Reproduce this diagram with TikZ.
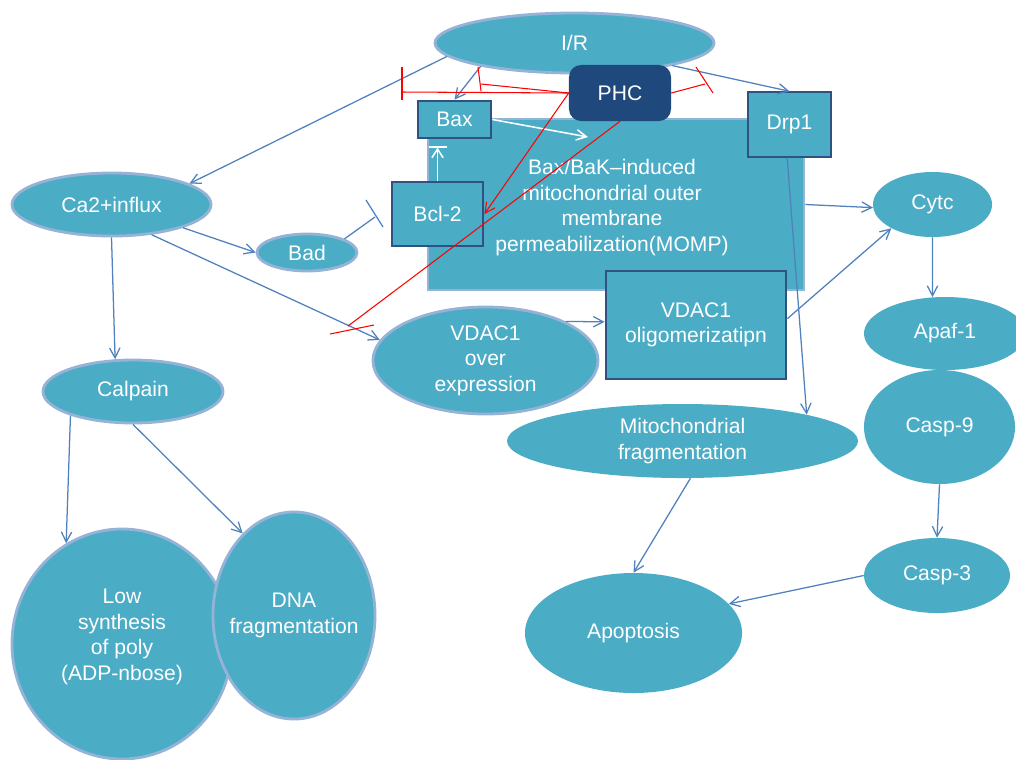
\documentclass[tikz,border=0pt]{standalone}
\usepackage{fontspec}
\setmainfont{Liberation Sans}
\usetikzlibrary{shapes.geometric,arrows.meta}

\definecolor{cellfill}{HTML}{4BACC6}
\definecolor{rimblue}{HTML}{95B3D7}
\definecolor{arrowblue}{HTML}{4F81BD}
\definecolor{boxrim}{HTML}{2F5283}
\definecolor{phcfill}{HTML}{1F497D}

\newcommand\diafont{\fontsize{15}{18.2}\selectfont}

\tikzset{
  cell/.style={fill=cellfill, text=white, align=center, inner sep=0pt, font=\diafont},
  ell/.style={cell, ellipse, draw=rimblue, line width=2pt},
  flatell/.style={cell, ellipse},
  darkbox/.style={cell, rectangle, draw=boxrim, line width=2pt},
  lbl/.style={cell, fill=none},
  flow/.style={draw=arrowblue, line width=0.9pt, -{Straight Barb[length=2.5mm,width=2.6mm]}},
  blockblue/.style={draw=arrowblue, line width=0.9pt},
  block/.style={draw=red, line width=0.75pt},
  whiteflow/.style={draw=white, line width=1.1pt, -{Straight Barb[length=2.5mm,width=2.6mm]}}
}

\begin{document}
\begin{tikzpicture}[x=0.025cm,y=-0.025cm]

\useasboundingbox (0,0) rectangle (1016,759);

% Define free ends of the inhibition lines
\coordinate (caStop) at (402,92);
\coordinate (caBarA) at (402,67);
\coordinate (caBarB) at (402,100);
\coordinate (baxStop) at (481,84);
\coordinate (baxBarA) at (478,67);
\coordinate (baxBarB) at (481,91);
\coordinate (drpStop) at (705,84);
\coordinate (drpBarA) at (696,67);
\coordinate (drpBarB) at (713,93);
\coordinate (vdacStop) at (348,326);
\coordinate (vdacBarA) at (330,334);
\coordinate (vdacBarB) at (374,325);
\coordinate (badStop) at (375,217);
\coordinate (badBarA) at (366,200);
\coordinate (badBarB) at (383,227);
\coordinate (mompIn) at (588,137);
\coordinate (bclTop) at (437.5,146);

% Big MOMP box (drawn first, the small boxes sit on it)
\node[cell, rectangle, draw=rimblue, line width=2pt, minimum width=9.4cm, minimum height=4.275cm]
  (MOMP) at (616,204.5) {};
\node[lbl] (MOMPtxt) at (612,207.5) {Bax/BaK--induced\\mitochondrial outer\\membrane\\permeabilization(MOMP)};

% Top row
\node[ell, minimum width=6.975cm, minimum height=1.5cm] (IR) at (574.5,43) {I/R};
\node[cell, rectangle, fill=phcfill, rounded corners=0.3cm, minimum width=2.55cm, minimum height=1.4cm] (PHC) at (620,93) {PHC};
\node[darkbox, minimum width=1.825cm, minimum height=0.925cm] (Bax) at (454.5,119.5) {Bax};
\node[darkbox, line width=1pt, minimum width=2.075cm, minimum height=1.625cm] (Drp1) at (789.5,124.5) {Drp1};
\node[darkbox, minimum width=2.275cm, minimum height=1.6cm] (Bcl2) at (437.5,214) {Bcl-2};

% Left branch
\node[ell, minimum width=4.975cm, minimum height=1.575cm] (Ca) at (111.5,204.5) {Ca2+influx};
\node[ell, minimum width=2.5cm, minimum height=0.925cm] (Bad) at (307,252.5) {Bad};
\node[ell, minimum width=4.5cm, minimum height=1.575cm] (Cal) at (133,391.5) {Calpain};
\node[ell, minimum width=5.5cm, minimum height=5.75cm] (Low) at (122,644) {};
\node[lbl] (Lowtxt) at (122,637) {Low\\synthesis\\of poly\\(ADP-nbose)};
\node[ell, minimum width=4.05cm, minimum height=5.175cm] (DNA) at (294,615.5) {};
\node[lbl] (DNAtxt) at (DNA) {DNA\\fragmentation};

% VDAC1
\node[ell, minimum width=5.625cm, minimum height=2.675cm] (Vo) at (485.5,360.5) {VDAC1\\over\\expression};
\node[darkbox, minimum width=4.5cm, minimum height=2.7cm] (Olig) at (696,325) {VDAC1\\oligomerizatipn};

% Right branch
\node[flatell, minimum width=2.975cm, minimum height=1.625cm] (Cytc) at (932.5,204.5) {Cytc};
\node[flatell, minimum width=4.05cm, minimum height=1.825cm] (Apaf) at (945,333.5) {Apaf-1};
\node[flatell, minimum width=3.775cm, minimum height=2.85cm] (C9) at (939.5,427) {Casp-9};
\node[flatell, minimum width=3.65cm, minimum height=1.875cm] (C3) at (937,575.5) {Casp-3};
\node[flatell, minimum width=8.775cm, minimum height=1.85cm] (Mito) at (682.5,441) {Mitochondrial\\fragmentation};
\node[flatell, minimum width=5.425cm, minimum height=3cm] (Apo) at (633.5,633) {Apoptosis};

% Blue arrows
\draw[flow] (IR.186) -- (Ca.15);
\draw[flow] (IR.194) -- (Bax.north);
\draw[flow] (IR.347) -- (Drp1.north);
\draw[flow] (Ca.-18) -- (Bad.west);
\draw[flow] (Ca.-37) -- (Vo.169);
\draw[flow] (Ca.south) -- (Cal.119);
\draw[flow] (Vo.26) -- (Olig.178);
\draw[flow] (Olig.4) -- (Cytc.210);
\draw[flow] (MOMP.east) -- (Cytc.183);
\draw[flow] (Drp1.-94) -- (Mito.12);
\draw[flow] (Cytc.south) -- (Apaf.109);
\draw[flow] (C9.south) -- (C3.north);
\draw[flow] (C3.west) -- (Apo.17);
\draw[flow] (Mito.-78) -- (Apo.north);
\draw[flow] (Cal.201) -- (Low.119);
\draw[flow] (Cal.south) -- (DNA.122);

% Bad blocks Bcl-2
\draw[blockblue] (Bad.20) -- (badStop);
\draw[blockblue] (badBarA) -- (badBarB);

% White arrows inside the MOMP box
\draw[whiteflow] (Bax.east) -- (mompIn);
\draw[whiteflow, -{Straight Barb[length=2.2mm,width=2.8mm,sep=0pt] Bar[width=4.5mm]}] (Bcl2.north) -- (bclTop);

% Red lines from PHC
\draw[block] (PHC.west) -- (caStop);
\draw[block] (caBarA) -- (caBarB);
\draw[block] (PHC.west) -- (baxStop);
\draw[block] (baxBarA) -- (baxBarB);
\draw[block] (PHC.east) -- (drpStop);
\draw[block] (drpBarA) -- (drpBarB);
\draw[block, -{Straight Barb[length=2.5mm,width=2.6mm]}] (PHC.west) -- (Bcl2.east);
\draw[block] (PHC.south) -- (vdacStop);
\draw[block] (vdacBarA) -- (vdacBarB);

\end{tikzpicture}
\end{document}
